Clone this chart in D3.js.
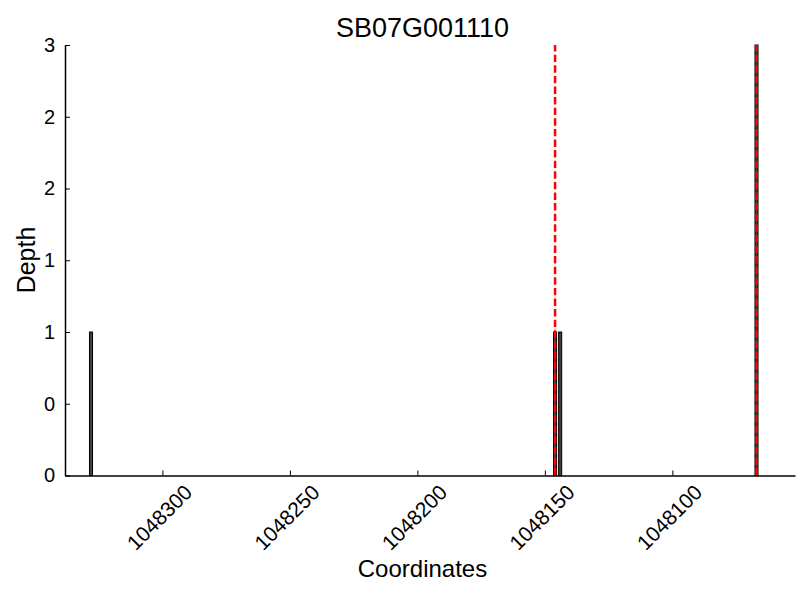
<!DOCTYPE html>
<html><head><meta charset="utf-8">
<script src="https://d3js.org/d3.v7.min.js"></script>
<style>body{margin:0;background:#fff}text{font-family:"Liberation Sans",Arial,sans-serif}</style>
</head><body><svg id="c" width="800" height="600"></svg>
<script>
const title = "SB07G001110";
const positions = [1048328, 1048146, 1048144, 1048067];
const depths = [1, 1, 1, 3];
const markerLines = [1048146, 1048067];
const xTicks = [1048300, 1048250, 1048200, 1048150, 1048100];
const yTicks = [0, 0.5, 1, 1.5, 2, 2.5, 3];

const svg = d3.select("#c");
const L = 65, R = 795, T = 45, B = 475.5;
const x = d3.scaleLinear().domain([1048338.2, 1048051.9]).range([L, R]);
const y = d3.scaleLinear().domain([0, 3]).range([B, T]);

// bars
svg.selectAll("rect.bar").data(positions).enter().append("rect")
  .attr("x", (d) => x(d + 0.6))
  .attr("width", (d) => x(d - 0.6) - x(d + 0.6))
  .attr("y", (d, i) => y(depths[i]))
  .attr("height", (d, i) => y(0) - y(depths[i]))
  .attr("fill", "#404040").attr("stroke", "#000").attr("stroke-width", 1);

// dashed markers
svg.selectAll("line.mk").data(markerLines).enter().append("line")
  .attr("x1", d => x(d)).attr("x2", d => x(d))
  .attr("y1", B).attr("y2", T)
  .attr("stroke", "#ff0000").attr("stroke-width", 2.5)
  .attr("stroke-dasharray", "7.4,3.2");

// axes
const xa = svg.append("g").attr("transform", `translate(0,${B})`)
  .call(d3.axisBottom(x).tickValues(xTicks).tickSizeInner(-5).tickSizeOuter(0).tickFormat(d3.format("d")));
xa.select(".domain").attr("stroke-width", 1.5);
xa.selectAll("text").remove();
svg.selectAll("text.xt").data(xTicks).enter().append("text")
  .attr("transform", d => `translate(${x(d) - 3},${B + 42}) rotate(-45)`)
  .attr("text-anchor", "middle").attr("dy", "0.35em")
  .attr("font-size", 21).text(d3.format("d"));

const ya = svg.append("g").attr("transform", `translate(${L},0)`)
  .call(d3.axisLeft(y).tickValues(yTicks).tickSizeInner(-5).tickSizeOuter(0).tickPadding(10)
    .tickFormat(d => String(Math.floor(d))));
ya.select(".domain").attr("stroke-width", 1.5);
ya.selectAll("text").attr("font-size", 20).attr("font-family", "Liberation Sans, Arial, sans-serif");

svg.append("text").attr("x", 422.5).attr("y", 37).attr("text-anchor", "middle")
  .attr("font-size", 27).text(title);
svg.append("text").attr("x", 422.5).attr("y", 577).attr("text-anchor", "middle")
  .attr("font-size", 24).text("Coordinates");
svg.append("text").attr("transform", "translate(35,260) rotate(-90)").attr("text-anchor", "middle")
  .attr("font-size", 25).text("Depth");
</script></body></html>
